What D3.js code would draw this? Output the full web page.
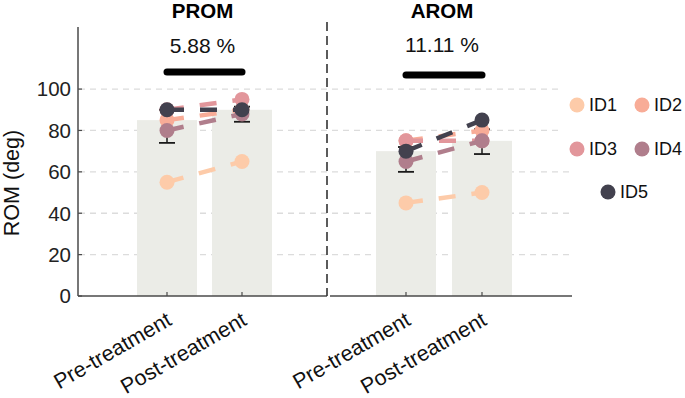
<!DOCTYPE html>
<html>
<meta charset="utf-8">
<style>
  body { margin: 0; background: #fff; }
  text { font-family: "Liberation Sans", Arial, sans-serif; }
</style>

<body>
  <svg></svg>
</body>

<script src="https://d3js.org/d3.v7.min.js"></script>

<script>

  // data
  var ids = ["ID1", "ID2", "ID3", "ID4", "ID5"];
  var conditions = ["Pre-treatment", "Post-treatment"];
  var measures = ["PROM", "AROM"];
  var changeLabels = ["5.88 %", "11.11 %"];

  var promPre = [55, 85, 90, 80, 90];
  var promPost = [65, 90, 95, 88, 90];
  var aromPre = [45, 75, 75, 65, 70];
  var aromPost = [50, 80, 75, 75, 85];

  var promBars = [85, 90];
  var aromBars = [70, 75];
  var promErrLow = [74, 84.2], promErrHigh = [90, 91.5];
  var aromErrLow = [60, 68.6], aromErrHigh = [72, 80.6];

  var yTicks = [0, 20, 40, 60, 80, 100];
  var colors = ["#FDCBA9", "#F8AC97", "#E2969B", "#B07E8C", "#42414E"];

  var W = 685, H = 398;
  var svg = d3.select("svg").attr("width", W).attr("height", H);

  var y = d3.scaleLinear().domain([0, 130]).range([296, 27]);

  // one panel per measure
  var panels = [
    { name: measures[0], pre: promPre, post: promPost, bars: promBars, lo: promErrLow, hi: promErrHigh,
      label: changeLabels[0], x: d3.scalePoint().domain(conditions).range([167, 242]),
      axis: [78, 327], sigY: 72, labelY: 53 },
    { name: measures[1], pre: aromPre, post: aromPost, bars: aromBars, lo: aromErrLow, hi: aromErrHigh,
      label: changeLabels[1], x: d3.scalePoint().domain(conditions).range([406, 482]),
      axis: [330, 572], sigY: 75, labelY: 52 }
  ];

  // gridlines
  svg.append("g").selectAll("line")
    .data(yTicks.slice(1))
    .enter().append("line")
    .attr("x1", 79).attr("x2", 572)
    .attr("y1", d => y(d)).attr("y2", d => y(d))
    .attr("stroke", "#dcdcdc")
    .attr("stroke-width", 1.3)
    .attr("stroke-dasharray", "6,5");

  // legend background hides gridlines
  svg.append("rect").attr("x", 560).attr("y", 78).attr("width", 125).attr("height", 86).attr("fill", "#fff");

  panels.forEach(function (p) {
    var g = svg.append("g");
    var bw = 60;

    g.selectAll("rect.bar")
      .data(p.bars)
      .enter().append("rect")
      .attr("x", (d, i) => p.x(conditions[i]) - bw / 2)
      .attr("width", bw)
      .attr("y", d => y(d))
      .attr("height", d => y(0) - y(d))
      .attr("fill", "#EBECE7");

    // bottom axis line + ticks
    g.append("line")
      .attr("x1", p.axis[0]).attr("x2", p.axis[1])
      .attr("y1", y(0)).attr("y2", y(0))
      .attr("stroke", "#4a4a4a").attr("stroke-width", 1.5);
    g.selectAll("line.xt")
      .data(conditions)
      .enter().append("line")
      .attr("x1", d => p.x(d)).attr("x2", d => p.x(d))
      .attr("y1", y(0)).attr("y2", y(0) - 4)
      .attr("stroke", "#4a4a4a").attr("stroke-width", 1.2);

    g.selectAll("text.xl")
      .data(conditions)
      .enter().append("text")
      .attr("transform", d => "translate(" + (p.x(d) + 6) + "," + (y(0) + 28) + ") rotate(-30)")
      .attr("text-anchor", "end")
      .attr("font-size", 21.5)
      .attr("fill", "#111")
      .text(d => d);

    // error bars
    conditions.forEach(function (c, i) {
      var cx = p.x(c);
      g.append("line").attr("x1", cx).attr("x2", cx)
        .attr("y1", y(p.lo[i])).attr("y2", y(p.hi[i]))
        .attr("stroke", "#1a1a1a").attr("stroke-width", 1.5);
      [p.lo[i], p.hi[i]].forEach(function (v) {
        g.append("line").attr("x1", cx - 8).attr("x2", cx + 8)
          .attr("y1", y(v)).attr("y2", y(v))
          .attr("stroke", "#1a1a1a").attr("stroke-width", 1.8);
      });
    });

    // subject lines and dots
    ids.forEach(function (id, k) {
      var x0 = p.x(conditions[0]), x1 = p.x(conditions[1]);
      g.append("line")
        .attr("x1", x0).attr("y1", y(p.pre[k]))
        .attr("x2", x1).attr("y2", y(p.post[k]))
        .attr("stroke", colors[k])
        .attr("stroke-width", 4.5)
        .attr("stroke-dasharray", "17,16");
      g.selectAll(null)
        .data([p.pre[k], p.post[k]])
        .enter().append("circle")
        .attr("cx", (d, i) => p.x(conditions[i]))
        .attr("cy", d => y(d))
        .attr("r", 7.5)
        .attr("fill", colors[k]);
    });

    // significance bar and label
    g.append("line")
      .attr("x1", p.x(conditions[0])).attr("x2", p.x(conditions[1]))
      .attr("y1", p.sigY).attr("y2", p.sigY)
      .attr("stroke", "#000").attr("stroke-width", 7).attr("stroke-linecap", "round");
    g.append("text")
      .attr("x", (p.x(conditions[0]) + p.x(conditions[1])) / 2 - 2)
      .attr("y", p.labelY)
      .attr("text-anchor", "middle")
      .attr("font-size", 21)
      .attr("fill", "#111")
      .text(p.label);
    g.append("text")
      .attr("x", (p.x(conditions[0]) + p.x(conditions[1])) / 2 - 2)
      .attr("y", 18)
      .attr("text-anchor", "middle")
      .attr("font-size", 20.5)
      .attr("font-weight", "bold")
      .attr("fill", "#000")
      .text(p.name);
  });

  // y axis
  var yAxis = svg.append("g");
  yAxis.append("line")
    .attr("x1", 78).attr("x2", 78).attr("y1", 27).attr("y2", y(0))
    .attr("stroke", "#4a4a4a").attr("stroke-width", 1.5);
  yAxis.selectAll("line.t")
    .data(yTicks)
    .enter().append("line")
    .attr("x1", 78).attr("x2", 82)
    .attr("y1", d => y(d)).attr("y2", d => y(d))
    .attr("stroke", "#4a4a4a").attr("stroke-width", 1.2);
  yAxis.selectAll("text")
    .data(yTicks)
    .enter().append("text")
    .attr("x", 71)
    .attr("y", d => y(d))
    .attr("dy", "0.36em")
    .attr("text-anchor", "end")
    .attr("font-size", 20.5)
    .attr("fill", "#222")
    .text(d => d);

  svg.append("text")
    .attr("transform", "translate(19," + 183 + ") rotate(-90)")
    .attr("text-anchor", "middle")
    .attr("font-size", 21.5)
    .attr("fill", "#111")
    .text("ROM (deg)");

  // dashed separator between panels
  svg.append("line")
    .attr("x1", 327).attr("x2", 327).attr("y1", 22).attr("y2", y(0))
    .attr("stroke", "#333").attr("stroke-width", 1.6)
    .attr("stroke-dasharray", "9,5");

  // legend
  var legendPos = [[577, 105], [642, 105], [577, 149], [642, 149], [608, 192]];
  var leg = svg.append("g").selectAll("g")
    .data(ids)
    .enter().append("g")
    .attr("transform", (d, i) => "translate(" + legendPos[i][0] + "," + legendPos[i][1] + ")");
  leg.append("circle").attr("r", 7.5).attr("fill", (d, i) => colors[i]);
  leg.append("text")
    .attr("x", 12).attr("dy", "0.36em")
    .attr("font-size", 18)
    .attr("fill", "#111")
    .text(d => d);

</script>

</html>
